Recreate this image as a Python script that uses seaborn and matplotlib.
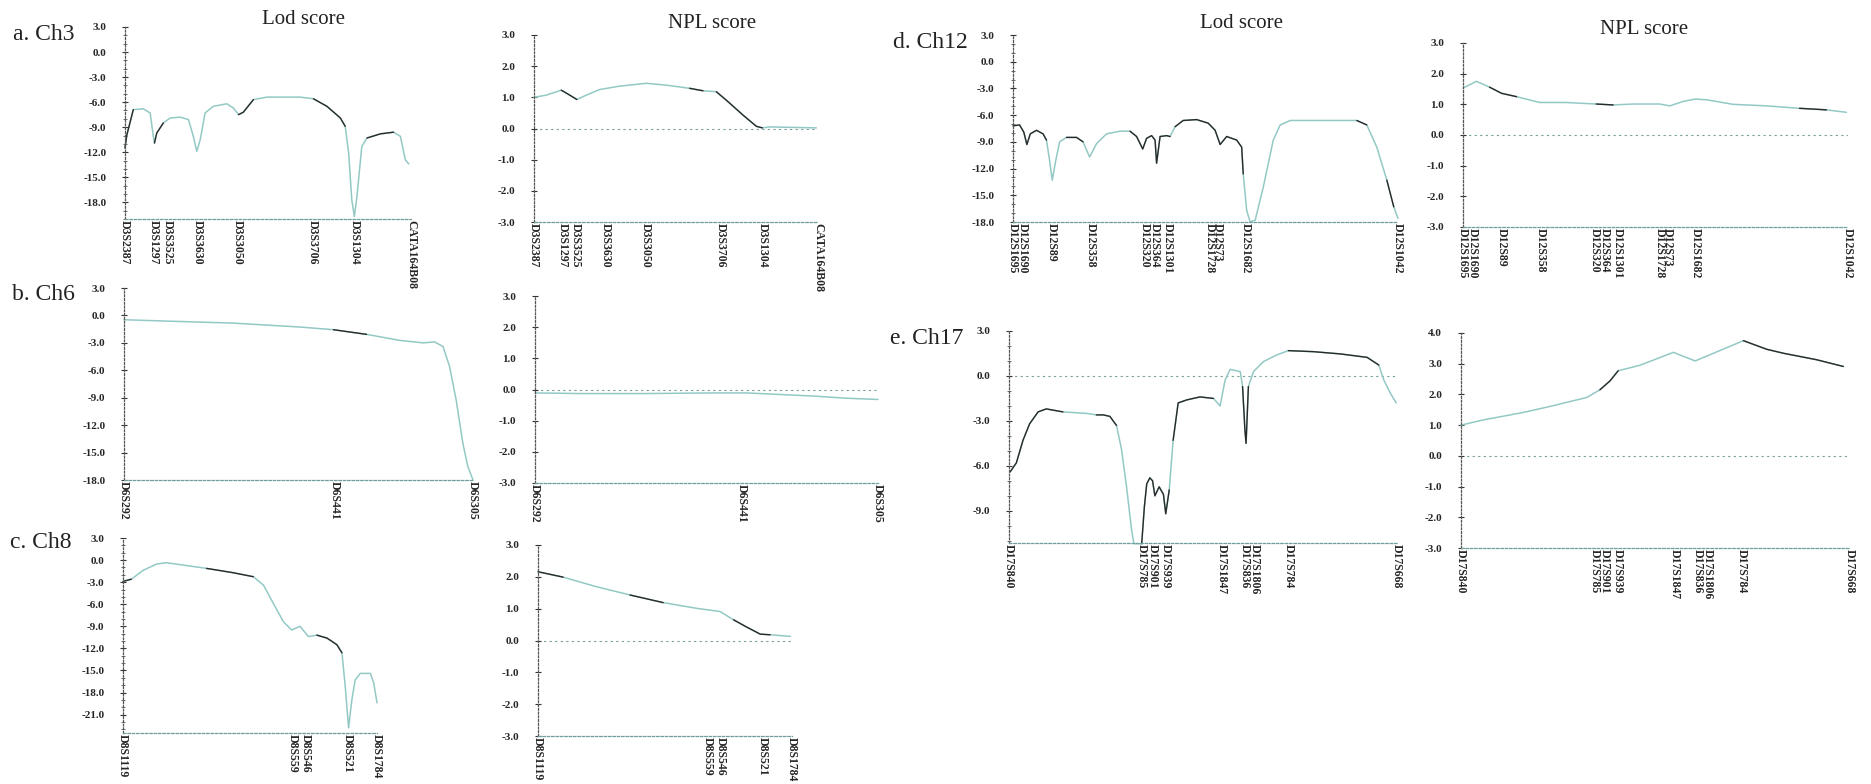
import numpy as np
import pandas as pd
import matplotlib
matplotlib.use('Agg')
import matplotlib.pyplot as plt
import seaborn as sns
from matplotlib.ticker import MultipleLocator

W, H = 1871, 784

# ---------------- data (positions in % of the mapped region) ----------------
ch3_markers = ['D3S2387', 'D3S1297', 'D3S3525', 'D3S3630', 'D3S3050', 'D3S3706', 'D3S1304', 'CATA164B08']
ch3_pos = [0, 10.0, 14.8, 25.3, 39.5, 65.6, 80.4, 100]
ch3_lod_x = [0, 0.6, 2.9, 6.4, 8.8, 9.9, 10.3, 11.1, 13.4, 15.8, 19.3, 22.2, 23.9, 25.1, 26.3, 28.0,
             30.9, 35.6, 37.9, 39.7, 41.4, 44.9, 49.6, 61.3, 65.9, 70.6, 75.3, 77.0, 78.2, 79.3, 80.2,
             81.1, 82.8, 84.6, 89.3, 93.9, 96.3, 98.0, 99.2]
ch3_lod_y = [-11.5, -10.0, -6.9, -6.8, -7.3, -10.1, -10.9, -9.7, -8.5, -7.9, -7.8, -8.1, -10.1, -11.9, -10.5, -7.3,
             -6.5, -6.2, -6.7, -7.5, -7.2, -5.7, -5.4, -5.4, -5.6, -6.5, -7.9, -8.9, -12.1, -17.7, -19.7,
             -17.3, -11.3, -10.3, -9.8, -9.6, -10.1, -12.9, -13.4]
ch3_npl_x = [0, 4.3, 9.6, 12.6, 15.1, 18.4, 23.1, 30.2, 39.6, 46.6, 54.8, 59.5, 64.2, 67.7, 73.6, 78.3, 80.4, 83.0, 99.4]
ch3_npl_y = [1.0, 1.07, 1.23, 1.07, 0.93, 1.07, 1.25, 1.36, 1.45, 1.39, 1.29, 1.21, 1.18, 0.91, 0.43, 0.07, 0.02, 0.05, 0.02]

ch6_markers = ['D6S292', 'D6S441', 'D6S305']
ch6_pos = [0, 60.4, 100]
ch6_lod_x = [0, 12.2, 31.3, 50.4, 60.0, 69.5, 79.0, 85.7, 89.0, 91.4, 93.3, 95.2, 97.1, 98.5, 100]
ch6_lod_y = [-0.47, -0.62, -0.84, -1.27, -1.56, -2.07, -2.73, -3.0, -2.9, -3.4, -5.6, -9.3, -14.0, -16.5, -18.0]
ch6_npl_x = [0, 13.1, 32.5, 51.9, 61.7, 71.4, 81.1, 90.8, 100]
ch6_npl_y = [-0.11, -0.13, -0.13, -0.11, -0.11, -0.16, -0.21, -0.28, -0.32]

ch8_markers = ['D8S1119', 'D8S559', 'D8S546', 'D8S521', 'D8S1784']
ch8_pos = [0, 66.9, 71.8, 88.3, 100]
ch8_lod_x = [0, 3.3, 7.9, 13.2, 17.1, 23.7, 32.9, 43.4, 51.3, 55.3, 59.2, 63.2, 66.4, 69.7, 73.0, 76.3,
             80.3, 84.2, 86.2, 87.5, 88.8, 90.1, 91.4, 93.4, 97.4, 98.7, 100]
ch8_lod_y = [-2.9, -2.6, -1.4, -0.54, -0.36, -0.68, -1.13, -1.72, -2.26, -3.4, -5.9, -8.4, -9.5, -9.0, -10.4, -10.2,
             -10.6, -11.5, -12.6, -17.2, -22.8, -19.0, -16.3, -15.4, -15.4, -16.7, -19.4]
ch8_npl_x = [0, 9.9, 23.0, 36.2, 49.3, 62.5, 71.7, 77.0, 82.2, 87.5, 91.4, 99.3]
ch8_npl_y = [2.16, 1.99, 1.69, 1.43, 1.19, 1.01, 0.91, 0.65, 0.42, 0.20, 0.18, 0.13]

ch12_markers = ['D12S1695', 'D12S1690', 'D12S89', 'D12S358', 'D12S320', 'D12S364', 'D12S1301',
                'D12S1728', 'D12S73', 'D12S1682', 'D12S1042']
ch12_pos = [0, 2.5, 10.0, 20.3, 34.2, 36.8, 40.2, 51.0, 53.2, 60.5, 100]
ch12_lod_x = [0, 1.7, 2.8, 3.6, 4.5, 6.1, 7.8, 8.7, 9.5, 10.2, 11.1, 12.1, 13.9, 16.5, 18.2, 19.9, 21.7,
              24.3, 27.8, 30.4, 32.1, 33.7, 34.7, 36.0, 36.9, 37.3, 38.2, 39.9, 40.8, 42.1, 44.2, 47.7,
              50.7, 52.5, 53.8, 55.5, 58.1, 59.4, 59.8, 60.7, 61.6, 62.9, 65.0, 67.6, 69.4, 72.0, 78.1,
              86.7, 89.3, 91.9, 94.5, 97.1, 98.9, 100]
ch12_lod_y = [-7.2, -7.1, -7.9, -9.3, -8.1, -7.7, -8.1, -8.8, -11.1, -13.3, -11.1, -9.0, -8.5, -8.5, -9.0, -10.7, -9.2,
              -8.1, -7.8, -7.8, -8.4, -9.8, -8.6, -8.3, -8.8, -11.4, -8.4, -8.3, -8.4, -7.3, -6.6, -6.5,
              -6.9, -7.7, -9.3, -8.4, -8.8, -9.6, -12.6, -16.7, -18.0, -17.8, -14.1, -8.8, -7.1, -6.6, -6.6,
              -6.6, -6.6, -7.1, -9.6, -13.3, -16.3, -17.6]
ch12_npl_x = [0, 3.5, 6.9, 10.0, 13.9, 19.9, 26.8, 34.6, 39.0, 44.2, 51.1, 53.7, 57.1, 60.2, 63.2, 70.1,
              78.8, 87.4, 94.4, 99.6]
ch12_npl_y = [1.53, 1.75, 1.56, 1.36, 1.25, 1.06, 1.06, 1.01, 0.98, 1.01, 1.01, 0.95, 1.09, 1.17, 1.15, 1.0,
              0.95, 0.87, 0.82, 0.74]

ch17_markers = ['D17S840', 'D17S785', 'D17S901', 'D17S939', 'D17S1847', 'D17S836', 'D17S1806', 'D17S784', 'D17S668']
ch17_pos = [0, 34.3, 37.0, 40.3, 54.9, 60.8, 63.4, 72.1, 100]
ch17_lod_x = [0.3, 1.9, 3.6, 5.3, 7.5, 9.6, 13.9, 20.0, 22.5, 24.3, 26.0, 27.7, 29.0, 30.3, 31.6, 32.2, 34.2,
              34.9, 35.5, 36.3, 37.0, 37.6, 38.7, 39.8, 40.4, 41.3, 42.3, 43.6, 45.8, 49.2, 52.7, 54.4, 55.7,
              57.0, 59.6, 60.2, 60.8, 61.1, 61.7, 63.0, 65.6, 69.0, 72.0, 78.5, 85.4, 92.3, 95.3, 96.6, 98.3, 99.8]
ch17_lod_y = [-6.4, -5.8, -4.3, -3.2, -2.4, -2.2, -2.4, -2.5, -2.6, -2.6, -2.7, -3.3, -4.9, -7.4, -10.3, -11.2, -11.2,
              -8.7, -7.2, -6.8, -7.0, -8.0, -7.4, -7.9, -9.2, -7.6, -4.3, -1.8, -1.6, -1.4, -1.5, -2.0, -0.27,
              0.44, 0.29, -0.71, -3.6, -4.5, -0.71, 0.29, 0.96, 1.4, 1.69, 1.62, 1.47, 1.24, 0.73, -0.27, -1.16, -1.8]
ch17_npl_x = [0, 5.7, 15.9, 22.9, 32.3, 35.7, 38.3, 40.4, 46.0, 54.6, 60.2, 72.6, 78.6, 82.9, 91.4, 98.3]
ch17_npl_y = [1.0, 1.17, 1.41, 1.61, 1.9, 2.15, 2.44, 2.77, 2.95, 3.37, 3.09, 3.75, 3.47, 3.34, 3.13, 2.91]

lod_ticks_18 = [3, 0, -3, -6, -9, -12, -15, -18]
lod_ticks_21 = [3, 0, -3, -6, -9, -12, -15, -18, -21]
lod_ticks_9 = [3, 0, -3, -6, -9]
npl_ticks_3 = [3, 2, 1, 0, -1, -2, -3]
npl_ticks_4 = [4, 3, 2, 1, 0, -1, -2, -3]

# ---------------- style ----------------
sns.set_style('white')
plt.rcParams['font.family'] = ['Liberation Serif', 'DejaVu Serif']

LIGHT = '#93c9c5'
DARK = '#2a2a2a'

fig = plt.figure(figsize=(W / 100, H / 100), dpi=100)


def make_axes(left, right, top, bottom):
    return fig.add_axes([left / W, 1 - bottom / H, (right - left) / W, (bottom - top) / H])


def draw_panel(box, x, y, markers, pos, ylim, yticks, dark, zero_line=False, minor=None):
    ax = make_axes(*box)
    df = pd.DataFrame({'pos': x, 'score': y})
    sns.lineplot(data=df, x='pos', y='score', ax=ax, color=LIGHT, lw=1.1,
                 estimator=None, sort=False, clip_on=False)
    for a, b in dark:
        sub = df[(df['pos'] >= a) & (df['pos'] <= b)]
        sns.lineplot(data=sub, x='pos', y='score', ax=ax, color=DARK, lw=1.0,
                     estimator=None, sort=False, clip_on=False)
    ax.set_xlim(0, 100)
    ax.set_ylim(*ylim)
    ax.set_xlabel('')
    ax.set_ylabel('')
    ax.set_facecolor('none')
    if zero_line:
        ax.axhline(0, color='#7a9e9c', lw=0.8, ls=(0, (2, 3)), zorder=0)
    for s in ['top', 'right']:
        ax.spines[s].set_visible(False)
    ax.spines['left'].set_color('#555555')
    ax.spines['left'].set_linestyle((0, (1.5, 1.5)))
    ax.spines['left'].set_linewidth(0.9)
    ax.spines['bottom'].set_color('#6f9f9c')
    ax.spines['bottom'].set_linestyle((0, (2, 1.5)))
    ax.spines['bottom'].set_linewidth(0.9)
    ax.set_yticks(yticks)
    ax.set_yticklabels([f'{v:.1f}' for v in yticks], fontsize=8, fontweight='bold')
    if minor:
        ax.yaxis.set_minor_locator(MultipleLocator(minor))
    ax.tick_params(axis='y', which='major', direction='inout', length=5, width=0.8,
                   color='#333333', pad=11, left=True)
    ax.tick_params(axis='y', which='minor', direction='inout', length=3, width=0.6,
                   color='#555555', left=True)
    ax.set_xticks(pos)
    ax.set_xticklabels(markers, rotation=-90, fontsize=8.5, fontweight='bold')
    ax.tick_params(axis='x', length=0, pad=1)
    return ax


# a. Ch3
draw_panel((125, 411, 27, 219), ch3_lod_x, ch3_lod_y, ch3_markers, ch3_pos, (-20, 3), lod_ticks_18,
           [(0, 3), (10, 14.5), (38, 46), (63, 78), (84, 94)], minor=1)
draw_panel((534, 818, 35, 222), ch3_npl_x, ch3_npl_y, ch3_markers, ch3_pos, (-3, 3), npl_ticks_3,
           [(0, 2), (8, 16), (54, 61), (63, 81)], zero_line=True)
# b. Ch6
draw_panel((124, 473, 288, 480), ch6_lod_x, ch6_lod_y, ch6_markers, ch6_pos, (-18, 3), lod_ticks_18,
           [(60, 70)])
draw_panel((535, 878, 296, 483), ch6_npl_x, ch6_npl_y, ch6_markers, ch6_pos, (-3, 3), npl_ticks_3,
           [(30, 36)], zero_line=True)
# c. Ch8
draw_panel((123, 377, 538, 733), ch8_lod_x, ch8_lod_y, ch8_markers, ch8_pos, (-23.5, 3), lod_ticks_21,
           [(0, 3.3), (32, 51.3), (76, 86.2)], minor=1)
draw_panel((538, 792, 545, 736), ch8_npl_x, ch8_npl_y, ch8_markers, ch8_pos, (-3, 3), npl_ticks_3,
           [(0, 10), (14, 23), (30, 56), (74, 93)], zero_line=True)
# d. Ch12
draw_panel((1013, 1398, 35, 222), ch12_lod_x, ch12_lod_y, ch12_markers, ch12_pos, (-18, 3), lod_ticks_18,
           [(0, 9), (13.9, 19), (30, 41), (42, 60), (88, 93), (97, 99)], minor=1)
draw_panel((1463, 1848, 43, 227), ch12_npl_x, ch12_npl_y, ch12_markers, ch12_pos, (-3, 3), npl_ticks_3,
           [(6.9, 14), (34.6, 40), (87.4, 97)], zero_line=True)
# e. Ch17
draw_panel((1009, 1397, 331, 543), ch17_lod_x, ch17_lod_y, ch17_markers, ch17_pos, (-11.15, 3), lod_ticks_9,
           [(0, 16), (22, 28), (34, 41.3), (42.3, 53), (60, 61.7), (72, 95.3)], zero_line=True, minor=1)
draw_panel((1461, 1850, 333, 548), ch17_npl_x, ch17_npl_y, ch17_markers, ch17_pos, (-3, 4), npl_ticks_4,
           [(0, 2), (15, 18), (35.7, 40.4), (54.6, 57), (72.6, 98.3)], zero_line=True)

# titles and panel labels
def fig_text(x, y, s, size, ha='left'):
    fig.text(x / W, 1 - y / H, s, fontsize=size, ha=ha, va='center', color='#222222')

fig_text(303, 20, 'Lod score', 15, ha='center')
fig_text(712, 23, 'NPL score', 15, ha='center')
fig_text(1242, 24, 'Lod score', 15, ha='center')
fig_text(1644, 29, 'NPL score', 15, ha='center')
fig_text(13, 35, 'a. Ch3', 17)
fig_text(12, 295, 'b. Ch6', 17)
fig_text(10, 543, 'c. Ch8', 17)
fig_text(893, 43, 'd. Ch12', 17)
fig_text(890, 338, 'e. Ch17', 17)

fig.savefig('out.png', dpi=100, facecolor='white')
